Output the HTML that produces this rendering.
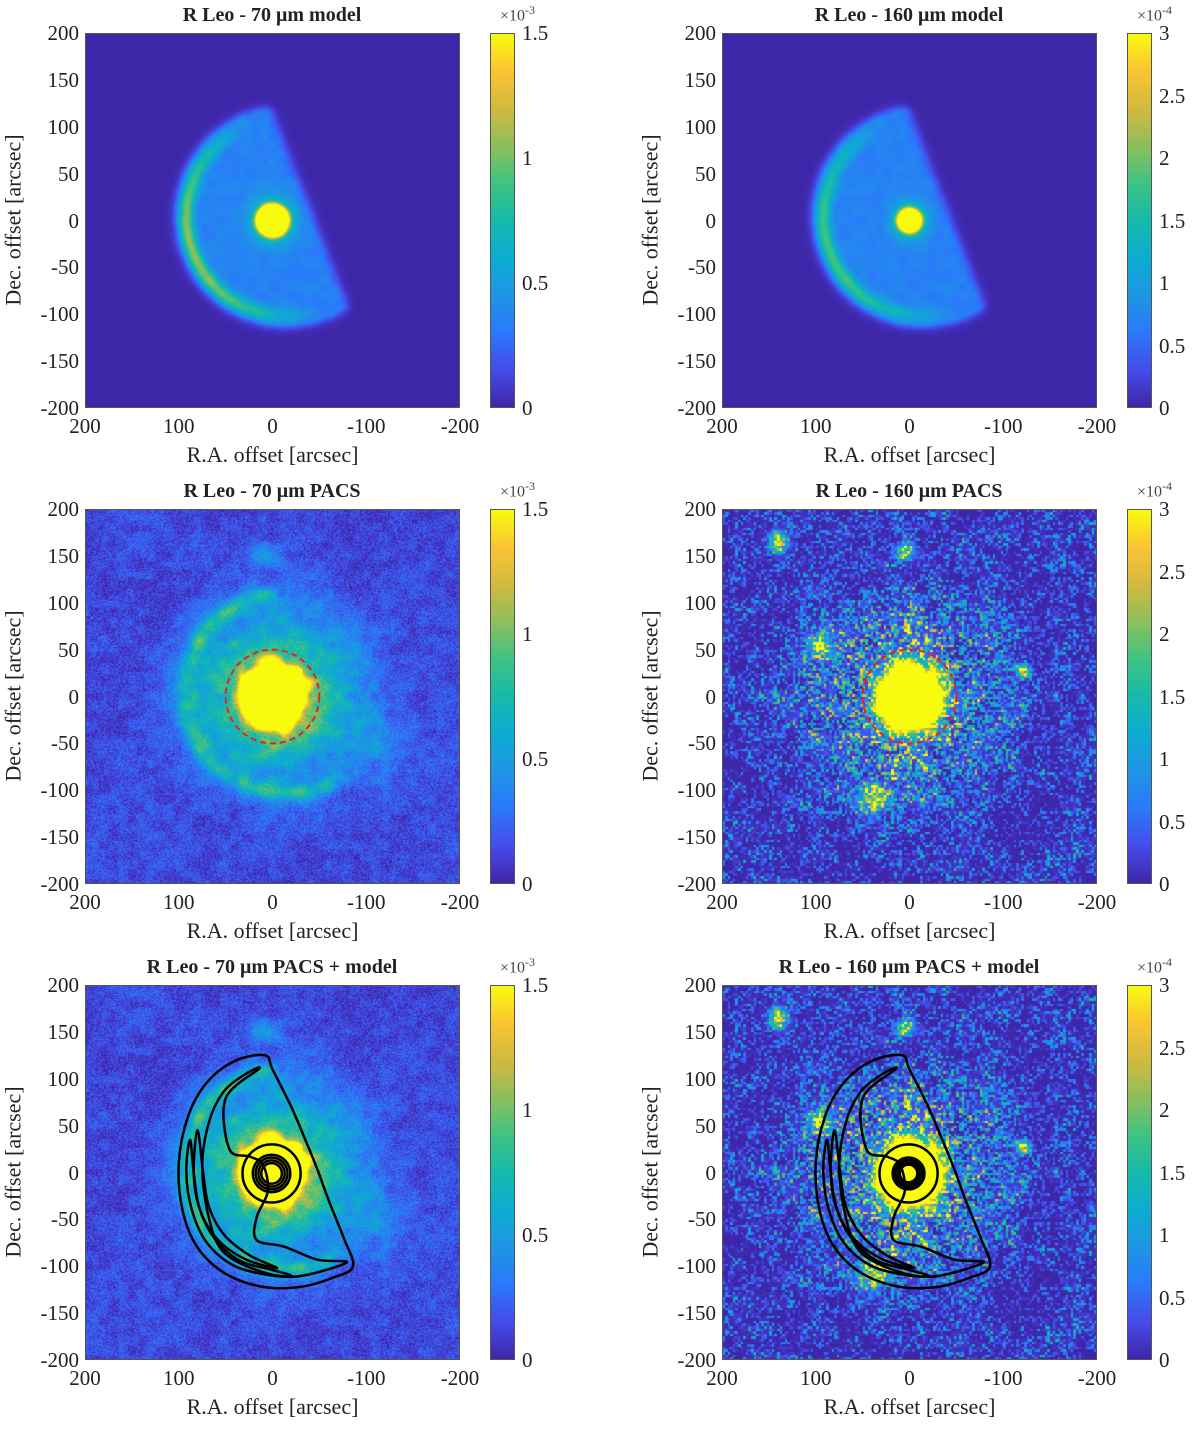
<!DOCTYPE html>
<html><head><meta charset="utf-8">
<style>
html,body{margin:0;padding:0;background:#fff;}
body{width:1200px;height:1429px;position:relative;overflow:hidden;font-family:"Liberation Serif",serif;color:#222;}
canvas{position:absolute;}
.title{position:absolute;font-weight:bold;font-size:20px;text-align:center;width:500px;white-space:nowrap;}
.tick{position:absolute;font-size:21px;white-space:nowrap;}
.xl{position:absolute;font-size:22px;white-space:nowrap;text-align:center;width:375px;}
.yl{position:absolute;font-size:22px;white-space:nowrap;transform:rotate(-90deg);transform-origin:center;width:375px;text-align:center;}
.frame{position:absolute;border:1px solid #555;box-sizing:border-box;}
</style></head>
<body>
<div id="root"></div>
<script>
// ===== data =====
const xTicks = [200,100,0,-100,-200];
const yTicks = [200,150,100,50,0,-50,-100,-150,-200];
const cbTicks70 = [0,0.5,1,1.5];
const cbTicks160 = [0,0.5,1,1.5,2,2.5,3];
const cbMax70 = 1.5, cbMax160 = 3;
const titles = ["R Leo - 70 \u03bcm model","R Leo - 160 \u03bcm model","R Leo - 70 \u03bcm PACS","R Leo - 160 \u03bcm PACS","R Leo - 70 \u03bcm PACS + model","R Leo - 160 \u03bcm PACS + model"];
const kinds = ["m70","m160","p70","p160","p70","p160"];
const contourOuter = [[8,125],[40,119],[70,96],[90,60],[100,10],[96,-40],[80,-80],[50,-108],[10,-122],[-30,-122],[-65,-112],[-86,-100],[-76,-70],[-60,-30],[-48,3],[-35,35],[-20,70],[0,110]];
const contourSecond = [[14,111],[50,79],[46,25],[24,17],[10,8],[5,-20],[17,-48],[17,-72],[-12,-79],[-48,-93],[-79,-96],[-25,-111],[17,-104],[53,-84],[68,-48],[75,6],[68,53],[53,85],[32,103]];
const contourArc = [[88,35],[92,0],[86,-40],[70,-75],[40,-100],[0,-110],[-20,-110],[0,-104],[35,-94],[62,-70],[78,-38],[84,0]];
const contourArc2 = [[80,45],[84,0],[78,-38],[60,-70],[30,-92],[-5,-102],[25,-88],[52,-66],[68,-36],[74,0]];
const starRadii = [11,14,17,20];
const haloRadius = 31;

// ===== helpers =====
const root = document.getElementById('root');
const LEFT=[85,722], TOP=[33,509,985], S=375;
const par = [[62,38,168],[70,76,235],[42,121,250],[30,150,228],[12,172,210],[22,186,170],[62,195,130],[140,191,92],[210,186,62],[250,196,52],[249,251,14]];
function cmap(v){v=Math.max(0,Math.min(1,v));const f=v*10,i=Math.min(9,Math.floor(f)),t=f-i;const a=par[i],b=par[i+1];return [a[0]+(b[0]-a[0])*t,a[1]+(b[1]-a[1])*t,a[2]+(b[2]-a[2])*t];}
function h(i,j,s){let n=Math.imul(i,374761393)+Math.imul(j,668265263)+Math.imul(s,1442695041);n=Math.imul(n^(n>>>13),1274126177);return ((n^(n>>>16))>>>0)/4294967296;}
function vn(x,y,sc,s){const gx=x/sc,gy=y/sc,i=Math.floor(gx),j=Math.floor(gy),fx=gx-i,fy=gy-j;const u=fx*fx*(3-2*fx),w=fy*fy*(3-2*fy);const a=h(i,j,s),b=h(i+1,j,s),c=h(i,j+1,s),d=h(i+1,j+1,s);return a+(b-a)*u+(c-a)*w+(a-b-c+d)*u*w;}
function sig(x){return 1/(1+Math.exp(-x));}
function crescent(ra,de,soft){
  const cx=-14,cy=4,R=118;const r=Math.hypot(ra-cx,de-cy);
  const ax=5,ay=127,bx=-82,by=-97;const cr=((bx-ax)*(de-ay)-(by-ay)*(ra-ax))/Math.hypot(bx-ax,by-ay);
  return [sig((R-r)/soft)*sig(cr/soft),R-r,cr];
}
function model(ra,de,isL){
  const r0=Math.hypot(ra,de);
  const rs=isL?12:17;
  let star=sig((rs-r0)/1.8)*1.3+0.5*Math.exp(-Math.pow(r0/(rs+5),2));
  const c=crescent(ra,de,3);
  let v=0.2+0.06*vn(ra,de,8,3);
  const d=c[1];
  const ang=Math.atan2(de-4,ra+14);
  const side=Math.max(0,Math.cos(ang+0.35));
  v+= (isL?0.4:0.5)*side*Math.exp(-Math.pow((d-12)/8,2));
  v+= 0.06*Math.exp(-Math.pow((d-3)/4,2));
  v*=c[0];
  return v+star;
}
function p70(ra,de,px,py){
  let bg=0.06+0.2*(h(px,py,7)-0.5)+0.1*(vn(ra,de,10,11)-0.5)+0.05*vn(ra,de,40,2);
  const r=Math.hypot(ra+5,de-5);
  let env=0.24*Math.exp(-Math.pow(r/115,4));
  env+=0.14*Math.exp(-(Math.pow((ra+115)/30,2)+Math.pow((de+50)/40,2)));
  env+=0.2*Math.exp(-(Math.pow((ra-8)/18,2)+Math.pow((de-150)/10,2)));
  env*=0.7+0.6*vn(ra,de,9,5);
  const rs=Math.hypot(ra,de)*(0.85+0.3*vn(ra,de,14,9));
  let star=sig((35-rs)/3)*1.2+0.6*Math.exp(-Math.pow(rs/55,2))*(0.7+0.6*vn(ra,de,8,9));
  const c=crescent(ra,de,6);
  let arc=0.3*c[0]*Math.exp(-Math.pow((c[1]-10)/10,2))*(0.5+vn(ra,de,10,4));
  return bg+env+star+arc;
}
function p160(px,py){
  const cs=2.6;const ci=Math.floor(px/cs),cj=Math.floor(py/cs);
  const ra=200-(ci*cs+1.3)/S*400, de=200-(cj*cs+1.3)/S*400;
  const n=h(ci,cj,21), m=vn(ra,de,14,31);
  let v=0.45*Math.pow(n,4)*(0.3+m)+0.08*m-0.05;
  const r=Math.hypot(ra-5,de);
  const env=Math.exp(-Math.pow(r/110,3));
  v+=env*(0.75*n*n+0.1*m);
  const rs=Math.hypot(ra,de)*(0.85+0.3*vn(ra,de,14,7));
  v+=sig((36-rs)/4)*1.5;
  const blobs=[[140,165,10],[5,155,9],[95,55,12],[-120,28,7],[40,-110,14]];
  for(const b of blobs){v+=0.8*Math.exp(-(Math.pow((ra-b[0])/b[2],2)+Math.pow((de-b[1])/b[2],2)))*(0.5+n);}
  return v;
}
function el(tag,cls,name,inter){const e=document.createElement(tag);if(cls)e.className=cls;


return e;}

const SVGNS="http://www.w3.org/2000/svg";
function toPx(p){return [(200-p[0])/400*S,(200-p[1])/400*S];}
function pathFrom(pts){ // closed Catmull-Rom
  const q=pts.map(toPx),n=q.length;let d='M'+q[0][0].toFixed(1)+','+q[0][1].toFixed(1);
  for(let i=0;i<n;i++){const p0=q[(i-1+n)%n],p1=q[i],p2=q[(i+1)%n],p3=q[(i+2)%n];
    const c1=[p1[0]+(p2[0]-p0[0])/6,p1[1]+(p2[1]-p0[1])/6],c2=[p2[0]-(p3[0]-p1[0])/6,p2[1]-(p3[1]-p1[1])/6];
    d+='C'+c1[0].toFixed(1)+','+c1[1].toFixed(1)+' '+c2[0].toFixed(1)+','+c2[1].toFixed(1)+' '+p2[0].toFixed(1)+','+p2[1].toFixed(1);}
  return d+'Z';}

for(let k=0;k<6;k++){
  const col=k%2,row=Math.floor(k/2);
  const L=LEFT[col],T=TOP[row],kind=kinds[k];
  const t=el('div','title','panel-title',false);t.textContent=titles[k];
  t.style.left=(L+187-250)+'px';t.style.top=(T-29)+'px';root.appendChild(t);
  const cv=el('canvas','', 'intensity-map',false);cv.width=S;cv.height=S;cv.style.left=L+'px';cv.style.top=T+'px';root.appendChild(cv);
  const ctx=cv.getContext('2d');const img=ctx.createImageData(S,S);
  const vmax = col===0?cbMax70:cbMax160;
  for(let py=0;py<S;py++)for(let px=0;px<S;px++){
    const ra=200-(px+0.5)/S*400, de=200-(py+0.5)/S*400;
    let v;
    if(kind==='m70')v=model(ra,de,false);
    else if(kind==='m160')v=model(ra,de,true);
    else if(kind==='p70')v=p70(ra,de,px,py);
    else v=p160(px,py);
    const c=cmap(v);const o=(py*S+px)*4;img.data[o]=c[0];img.data[o+1]=c[1];img.data[o+2]=c[2];img.data[o+3]=255;
  }
  ctx.putImageData(img,0,0);
  const svg=document.createElementNS(SVGNS,'svg');svg.setAttribute('width',S);svg.setAttribute('height',S);
  
  svg.style.position='absolute';svg.style.left=L+'px';svg.style.top=T+'px';
  if(row===1){
    const c=document.createElementNS(SVGNS,'circle');const q=toPx([0,0]);
    c.setAttribute('cx',q[0]);c.setAttribute('cy',q[1]);c.setAttribute('r',50/400*S);
    c.setAttribute('fill','none');c.setAttribute('stroke','#e8231f');c.setAttribute('stroke-width','2');c.setAttribute('stroke-dasharray','6,4');
    
    svg.appendChild(c);
  }
  if(row===2){
    const paths=[contourOuter,contourSecond,contourArc,contourArc2];
    for(const p of paths){const pe=document.createElementNS(SVGNS,'path');pe.setAttribute('d',pathFrom(p));pe.setAttribute('fill','none');pe.setAttribute('stroke','#000');pe.setAttribute('stroke-width','2.5');pe.setAttribute('stroke-linejoin','round');
      svg.appendChild(pe);}
    const rr=col===0?starRadii:starRadii.map(r=>r*0.85);
    for(const r of rr.concat([haloRadius])){const c=document.createElementNS(SVGNS,'circle');const q=toPx([1,-1]);
      c.setAttribute('cx',q[0]);c.setAttribute('cy',q[1]);c.setAttribute('r',r/400*S);c.setAttribute('fill','none');c.setAttribute('stroke','#000');c.setAttribute('stroke-width','2.5');
      svg.appendChild(c);}
  }
  root.appendChild(svg);
  const fr=el('div','frame','plot-frame',false);fr.style.left=L+'px';fr.style.top=T+'px';fr.style.width=S+'px';fr.style.height=S+'px';root.appendChild(fr);
  xTicks.forEach(v=>{const x=L+(200-v)/400*S;const tl=el('div','tick','x-tick-label',false);tl.textContent=v;tl.style.left=(x-30)+'px';tl.style.width='60px';tl.style.textAlign='center';tl.style.top=(T+S+6)+'px';root.appendChild(tl);});
  yTicks.forEach(v=>{const y=T+(200-v)/400*S;const tl=el('div','tick','y-tick-label',false);tl.textContent=v;tl.style.left=(L-70)+'px';tl.style.width='64px';tl.style.textAlign='right';tl.style.top=(y-12)+'px';root.appendChild(tl);});
  const xl=el('div','xl','x-axis-title',false);xl.textContent='R.A. offset [arcsec]';xl.style.left=L+'px';xl.style.top=(T+S+34)+'px';root.appendChild(xl);
  const yl=el('div','yl','y-axis-title',false);yl.textContent='Dec. offset [arcsec]';yl.style.left=(L-72-187)+'px';yl.style.top=(T+187-13)+'px';root.appendChild(yl);
  const cbL=L+405;
  const cb=el('div','frame','colorbar',false);cb.style.left=cbL+'px';cb.style.top=T+'px';cb.style.width='25px';cb.style.height=S+'px';
  const stops=[];for(let i=0;i<=20;i++){const c=cmap(i/20);stops.push(`rgb(${c[0]|0},${c[1]|0},${c[2]|0}) ${i*5}%`);}
  cb.style.background='linear-gradient(to top,'+stops.join(',')+')';root.appendChild(cb);
  const tk=col===0?cbTicks70:cbTicks160;
  tk.forEach(v=>{const y=T+S-v/vmax*S;const tl=el('div','tick','colorbar-tick-label',false);tl.textContent=v;tl.style.left=(cbL+32)+'px';tl.style.top=(y-12)+'px';root.appendChild(tl);});
  const ex=el('div','tick','colorbar-exponent',false);ex.innerHTML='\u00d710<sup style="font-size:12px">'+(col===0?'-3':'-4')+'</sup>';
  ex.style.left=(cbL+10)+'px';ex.style.top=(T-30)+'px';ex.style.fontSize='16px';ex.style.color='#444';root.appendChild(ex);
}
</script>
</body></html>
